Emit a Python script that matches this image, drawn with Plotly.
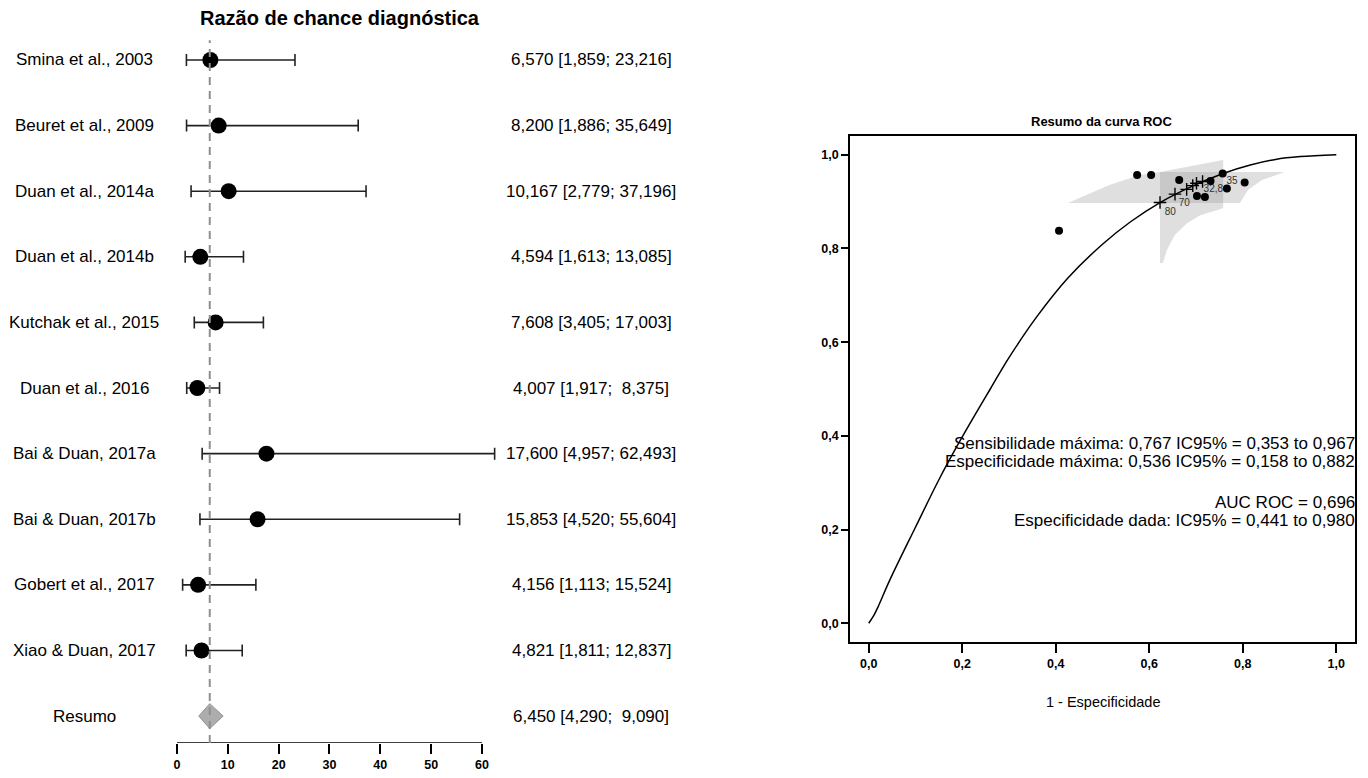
import plotly.graph_objects as go

W, H = 1368, 778
FONT = "Liberation Sans, Arial, sans-serif"

# ---------------- Forest plot data ----------------
studies = ["Smina et al., 2003", "Beuret et al., 2009", "Duan et al., 2014a",
           "Duan et al., 2014b", "Kutchak et al., 2015", "Duan et al., 2016",
           "Bai & Duan, 2017a", "Bai & Duan, 2017b", "Gobert et al., 2017",
           "Xiao & Duan, 2017"]
dor = [6.570, 8.200, 10.167, 4.594, 7.608, 4.007, 17.600, 15.853, 4.156, 4.821]
dor_lo = [1.859, 1.886, 2.779, 1.613, 3.405, 1.917, 4.957, 4.520, 1.113, 1.811]
dor_hi = [23.216, 35.649, 37.196, 13.085, 17.003, 8.375, 62.493, 55.604, 15.524, 12.837]
summary_label = "Resumo"
summary_est, summary_lo, summary_hi = 6.450, 4.290, 9.090
forest_ticks = [0, 10, 20, 30, 40, 50, 60]
forest_title = "Razão de chance diagnóstica"

# ---------------- ROC data ----------------
roc_ticks = [0.0, 0.2, 0.4, 0.6, 0.8, 1.0]
roc_ticklabels = ["0,0", "0,2", "0,4", "0,6", "0,8", "1,0"]
curve_fpr = [0.0, 0.01, 0.02, 0.045, 0.10, 0.152, 0.19, 0.221, 0.26, 0.30, 0.36,
             0.426, 0.50, 0.56, 0.623, 0.69, 0.758, 0.816, 0.87, 0.923, 1.0]
curve_sens = [0.0, 0.015, 0.035, 0.092, 0.205, 0.31, 0.38, 0.434, 0.50, 0.567, 0.655,
              0.737, 0.809, 0.857, 0.898, 0.932, 0.960, 0.978, 0.990, 0.996, 1.0]
study_fpr = [0.574, 0.604, 0.664, 0.731, 0.757, 0.804, 0.766, 0.407, 0.702, 0.719]
study_sens = [0.957, 0.957, 0.946, 0.944, 0.960, 0.941, 0.928, 0.838, 0.912, 0.910]
thr_fpr = [0.623, 0.655, 0.680, 0.693, 0.701, 0.714]
thr_sens = [0.898, 0.916, 0.926, 0.934, 0.939, 0.943]
thr_labels = ["80", "70", "32,8", "35"]
thr_label_fpr = [0.645, 0.675, 0.737, 0.777]
thr_label_sens = [0.876, 0.897, 0.925, 0.942]
band_sens_fpr = [0.426, 0.516, 0.580, 0.623, 0.758, 0.890, 0.841, 0.811, 0.794, 0.426]
band_sens_y = [0.897, 0.936, 0.957, 0.963, 0.963, 0.963, 0.946, 0.925, 0.897, 0.897]
band_spec_fpr = [0.623, 0.758, 0.758, 0.709, 0.681, 0.655, 0.638, 0.629, 0.623, 0.623]
band_spec_y = [0.963, 0.989, 0.886, 0.871, 0.854, 0.829, 0.797, 0.769, 0.769, 0.963]
roc_title = "Resumo da curva ROC"
roc_xlabel = "1 - Especificidade"
roc_notes = ["Sensibilidade máxima: 0,767 IC95% = 0,353 to 0,967",
             "Especificidade máxima: 0,536 IC95% = 0,158 to 0,882",
             "AUC ROC = 0,696",
             "Especificidade dada: IC95% = 0,441 to 0,980"]


def fmt(v, width=0):
    s = f"{v:.3f}".replace(".", ",")
    return "\u00a0" * max(0, width - len(s)) + s


def ci_text(e, l, h):
    return f"{fmt(e)} [{fmt(l)}; {fmt(h, 6)}]"


def px_x(p):
    return p / W


def px_y(p):
    return (H - p) / H


fig = go.Figure()

rows = [-i for i in range(len(studies))]
summary_row = -len(studies)

# forest: study points with CIs
fig.add_trace(go.Scatter(
    x=dor, y=rows, mode="markers",
    marker=dict(size=16, color="black"),
    error_x=dict(type="data", symmetric=False,
                 array=[h - d for h, d in zip(dor_hi, dor)],
                 arrayminus=[d - l for d, l in zip(dor, dor_lo)],
                 color="#222222", thickness=1.6, width=6),
    xaxis="x", yaxis="y", showlegend=False, hoverinfo="skip"))

# summary diamond
dh = 0.19
fig.add_trace(go.Scatter(
    x=[summary_lo, summary_est, summary_hi, summary_est, summary_lo],
    y=[summary_row, summary_row + dh, summary_row, summary_row - dh, summary_row],
    mode="lines", fill="toself", fillcolor="#adadad",
    line=dict(color="#939393", width=1),
    xaxis="x", yaxis="y", showlegend=False, hoverinfo="skip"))

# ROC confidence regions
for bx, by in [(band_sens_fpr, band_sens_y), (band_spec_fpr, band_spec_y)]:
    fig.add_trace(go.Scatter(
        x=bx, y=by, mode="lines", fill="toself",
        fillcolor="rgba(150,150,150,0.30)", line=dict(width=0),
        xaxis="x2", yaxis="y2", showlegend=False, hoverinfo="skip"))

# ROC curve
fig.add_trace(go.Scatter(
    x=curve_fpr, y=curve_sens, mode="lines",
    line=dict(color="black", width=1.5, shape="spline", smoothing=1.0),
    xaxis="x2", yaxis="y2", showlegend=False, hoverinfo="skip"))

# thresholds crosses
fig.add_trace(go.Scatter(
    x=thr_fpr, y=thr_sens, mode="markers",
    marker=dict(symbol="cross-thin", size=9, line=dict(color="black", width=1.4)),
    xaxis="x2", yaxis="y2", showlegend=False, hoverinfo="skip"))

# threshold labels
fig.add_trace(go.Scatter(
    x=thr_label_fpr, y=thr_label_sens, mode="text", text=thr_labels,
    textfont=dict(family=FONT, size=10, color="#333333"),
    xaxis="x2", yaxis="y2", showlegend=False, hoverinfo="skip"))

# study points
fig.add_trace(go.Scatter(
    x=study_fpr, y=study_sens, mode="markers",
    marker=dict(size=8, color="black"),
    xaxis="x2", yaxis="y2", showlegend=False, hoverinfo="skip"))

# ---------------- Layout ----------------
ylo, yhi = -10.41, 0.6
fig.update_layout(
    width=W, height=H, margin=dict(l=0, r=0, t=0, b=0),
    paper_bgcolor="white", plot_bgcolor="white",
    font=dict(family=FONT, color="black"),
    xaxis=dict(domain=[0.12193, 0.36718], range=[-2, 64],
               tickvals=forest_ticks, ticktext=[str(t) for t in forest_ticks],
               ticks="outside", ticklen=10, tickwidth=1.5, tickcolor="black",
               showline=False, showgrid=False, zeroline=False,
               tickfont=dict(family=FONT, size=12.5, color="black", weight="bold"),
               anchor="y"),
    yaxis=dict(domain=[0.04499, 0.97352], range=[ylo, yhi], visible=False,
               showgrid=False, zeroline=False, anchor="x"),
    xaxis2=dict(domain=[0.62135, 0.99050], range=[-0.04, 1.04],
                tickvals=roc_ticks, ticktext=roc_ticklabels,
                ticks="outside", ticklen=9, tickwidth=1.5, tickcolor="black",
                showline=True, linecolor="black", linewidth=1.5, mirror=True,
                showgrid=False, zeroline=False,
                tickfont=dict(family=FONT, size=12.5, color="black", weight="bold"),
                anchor="y2"),
    yaxis2=dict(domain=[0.17481, 0.82519], range=[-0.04, 1.04],
                tickvals=roc_ticks, ticktext=roc_ticklabels,
                ticks="outside", ticklen=7, tickwidth=1.5, tickcolor="black",
                showline=True, linecolor="black", linewidth=1.5, mirror=True,
                showgrid=False, zeroline=False,
                tickfont=dict(family=FONT, size=12.5, color="black", weight="bold"),
                anchor="x2"),
)

# forest axis line (0..60) and dashed summary line
fig.add_shape(type="line", xref="x", yref="y", x0=forest_ticks[0], x1=forest_ticks[-1],
              y0=ylo, y1=ylo, line=dict(color="black", width=1.5))
fig.add_shape(type="line", xref="x", yref="y", x0=summary_est, x1=summary_est,
              y0=ylo, y1=0.3, line=dict(color="#8f8f8f", width=2, dash="8px,6px"),
              layer="above")

annotations = []
# forest title
annotations.append(dict(text=f"<b>{forest_title}</b>", x=px_x(340), y=px_y(18),
                        xref="paper", yref="paper", xanchor="center", yanchor="middle",
                        showarrow=False, font=dict(family=FONT, size=20, color="black")))
# study labels & CI text
labels = studies + [summary_label]
texts = [ci_text(e, l, h) for e, l, h in zip(dor, dor_lo, dor_hi)] + \
        [ci_text(summary_est, summary_lo, summary_hi)]
for i, (lab, t) in enumerate(zip(labels, texts)):
    r = -i
    annotations.append(dict(text=lab, x=px_x(84), y=r, xref="paper", yref="y",
                            xanchor="center", yanchor="middle", showarrow=False,
                            font=dict(family=FONT, size=17, color="black")))
    annotations.append(dict(text=t, x=px_x(591), y=r, xref="paper", yref="y",
                            xanchor="center", yanchor="middle", showarrow=False,
                            font=dict(family=FONT, size=17, color="black")))
# ROC title, x label, notes
annotations.append(dict(text=f"<b>{roc_title}</b>", x=px_x(1101), y=px_y(121),
                        xref="paper", yref="paper", xanchor="center", yanchor="middle",
                        showarrow=False, font=dict(family=FONT, size=13, color="black")))
annotations.append(dict(text=roc_xlabel, x=px_x(1103), y=px_y(702),
                        xref="paper", yref="paper", xanchor="center", yanchor="middle",
                        showarrow=False, font=dict(family=FONT, size=14.5, color="black")))
for t, py in zip(roc_notes, [443, 461, 502, 520]):
    annotations.append(dict(text=t, x=px_x(1357), y=px_y(py), xref="paper", yref="paper",
                            xanchor="right", yanchor="middle", showarrow=False,
                            font=dict(family=FONT, size=17, color="black")))
fig.update_layout(annotations=annotations)

fig.write_html("out.html",
               config={"displayModeBar": False},
               post_script="document.body.style.margin='0px';"
                           "document.body.style.overflow='hidden';")
